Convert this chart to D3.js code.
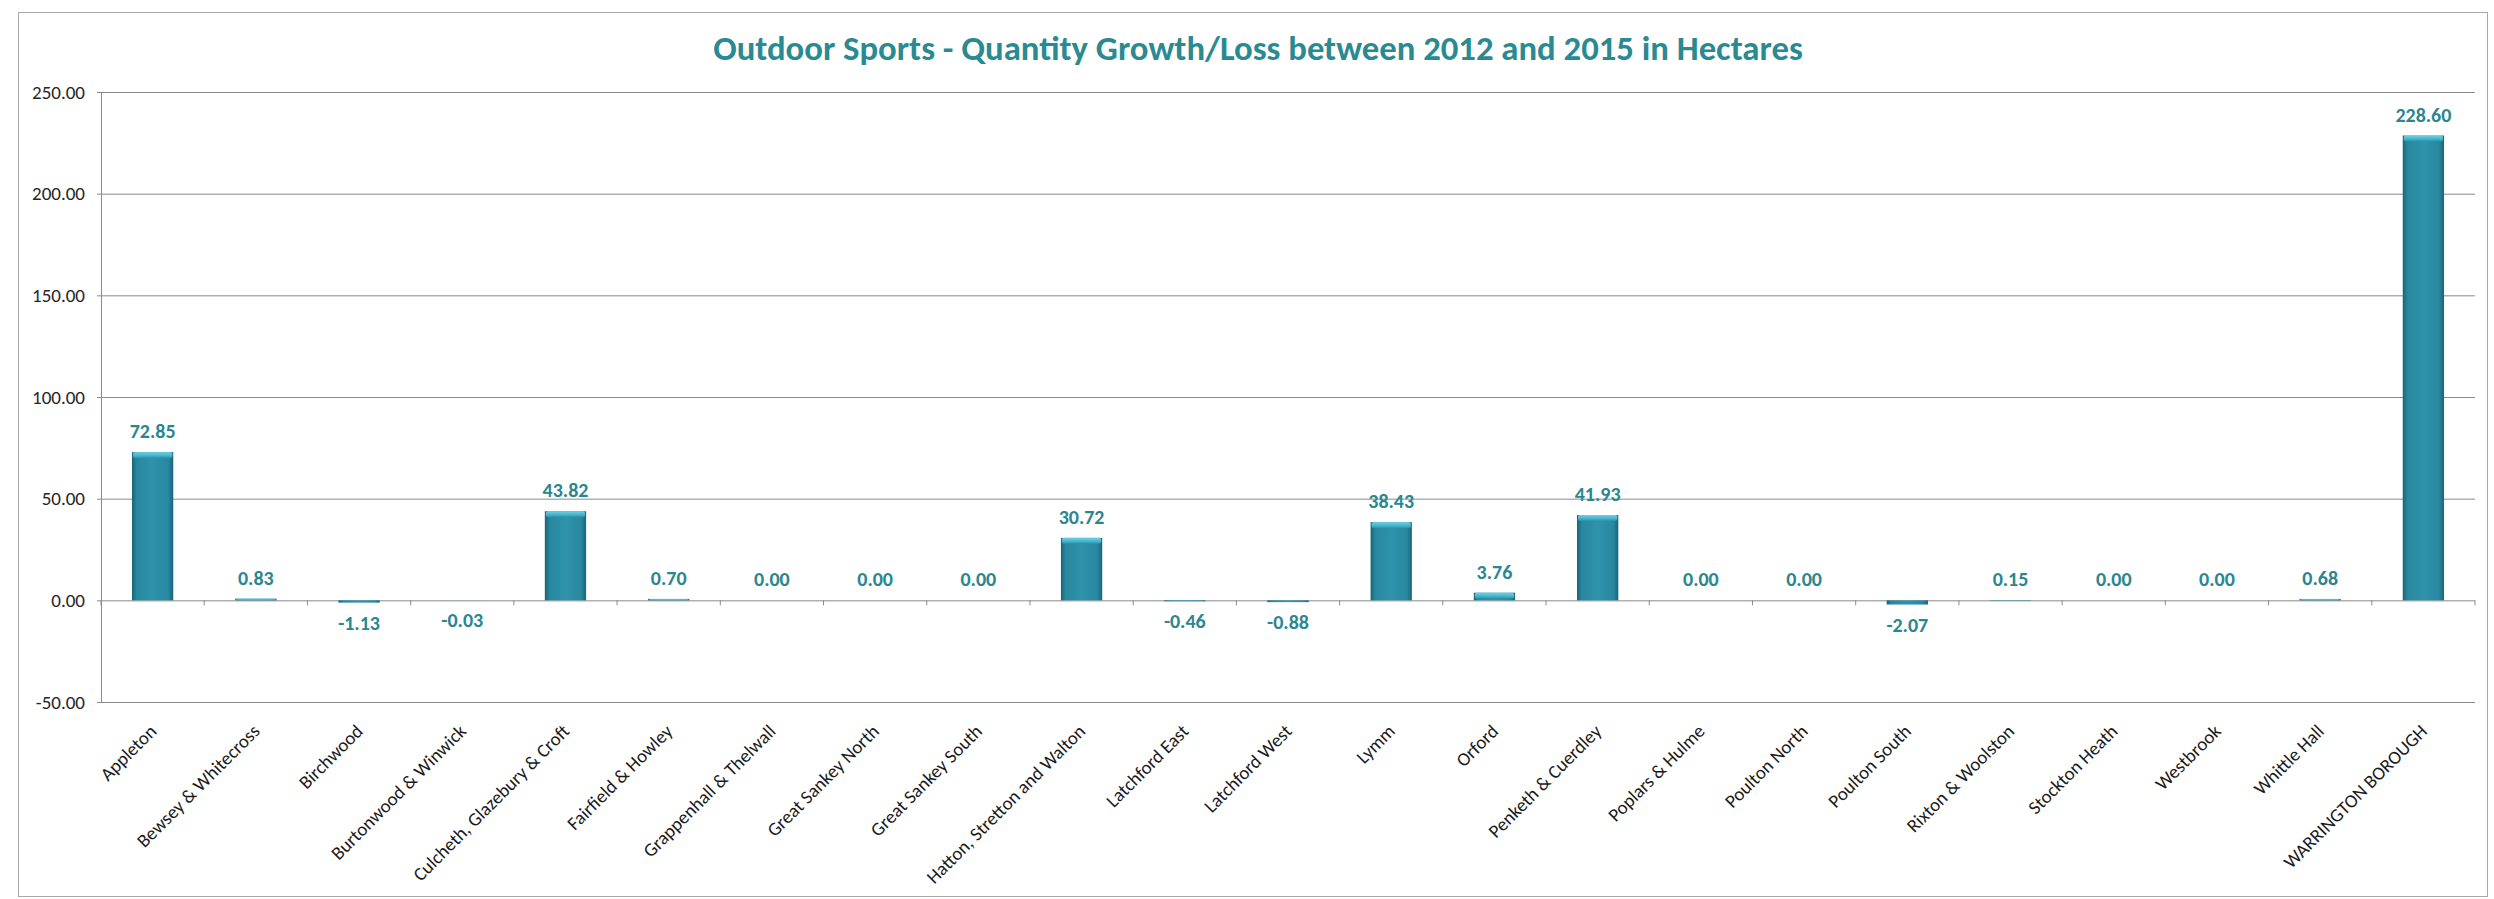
<!DOCTYPE html>
<html>
<head>
<meta charset="utf-8">
<script src="https://cdn.jsdelivr.net/npm/d3@7/dist/d3.min.js"></script>
<style>
  body { margin: 0; background: #ffffff; }
  svg { display: block; }
</style>
</head>
<body>
<svg id="chart" width="2494" height="899"></svg>
<script>
// ---------------- DATA ----------------
const chartTitle = "Outdoor Sports - Quantity Growth/Loss between 2012 and 2015 in Hectares";
const categories = [
  "Appleton", "Bewsey & Whitecross", "Birchwood", "Burtonwood & Winwick",
  "Culcheth, Glazebury & Croft", "Fairfield & Howley", "Grappenhall & Thelwall",
  "Great Sankey North", "Great Sankey South", "Hatton, Stretton and Walton",
  "Latchford East", "Latchford West", "Lymm", "Orford", "Penketh & Cuerdley",
  "Poplars & Hulme", "Poulton North", "Poulton South", "Rixton & Woolston",
  "Stockton Heath", "Westbrook", "Whittle Hall", "WARRINGTON BOROUGH"
];
const values = [
  72.85, 0.83, -1.13, -0.03, 43.82, 0.70, 0.00, 0.00, 0.00, 30.72,
  -0.46, -0.88, 38.43, 3.76, 41.93, 0.00, 0.00, -2.07, 0.15, 0.00,
  0.00, 0.68, 228.60
];
const yTickValues = [-50, 0, 50, 100, 150, 200, 250];
const yDomain = [-50, 250];

// ---------------- LAYOUT ----------------
const FONT = "Carlito, Calibri, Lato, 'Open Sans', sans-serif";
const plot = { left: 101, right: 2475, top: 92, bottom: 702 };
const svg = d3.select("#chart");
const locale = d3.formatLocale({ decimal: ".", thousands: ",", grouping: [3], currency: ["", ""], minus: "-" });
const fmt = locale.format(".2f");

function fitSize(str, weight, target, base) {
  base = base || 20;
  const t = svg.append("text")
    .attr("font-family", FONT).attr("font-weight", weight)
    .attr("font-size", base).text(str);
  const w = t.node().getComputedTextLength();
  t.remove();
  return base * target / w;
}

function draw() {
  // outer chart border
  svg.append("rect")
    .attr("x", 18.5).attr("y", 12.5)
    .attr("width", 2469).attr("height", 884)
    .attr("fill", "#ffffff").attr("stroke", "#a8a8a8").attr("stroke-width", 1);

  // gradients for bars
  const defs = svg.append("defs");
  const g1 = defs.append("linearGradient").attr("id", "barGrad")
    .attr("x1", "0%").attr("x2", "100%").attr("y1", "0%").attr("y2", "0%");
  [["0%", "#1a6476"], ["12%", "#2888a0"], ["50%", "#2f93ab"], ["88%", "#2888a0"], ["100%", "#1a6476"]]
    .forEach(s => g1.append("stop").attr("offset", s[0]).attr("stop-color", s[1]));
  const g2 = defs.append("linearGradient").attr("id", "capGrad")
    .attr("x1", "0%").attr("x2", "0%").attr("y1", "0%").attr("y2", "100%");
  [["0%", "#6fd0e2"], ["60%", "#43b4cb"], ["100%", "#2a8fa7"]]
    .forEach(s => g2.append("stop").attr("offset", s[0]).attr("stop-color", s[1]));

  // scales
  const x = d3.scaleBand().domain(categories)
    .range([plot.left, plot.right]).paddingInner(0.6).paddingOuter(0.3);
  const y = d3.scaleLinear().domain(yDomain).range([plot.bottom, plot.top]);

  // title
  const titleSize = fitSize(chartTitle, "bold", 1090, 30);
  svg.append("text")
    .attr("x", 1258).attr("y", 60)
    .attr("text-anchor", "middle")
    .attr("font-family", FONT).attr("font-weight", "bold")
    .attr("font-size", titleSize).attr("fill", "#2a8a92")
    .text(chartTitle);

  // gridlines
  svg.append("g")
    .attr("transform", `translate(${plot.left},0)`)
    .call(d3.axisLeft(y).tickValues(yTickValues)
      .tickSize(-(plot.right - plot.left)).tickFormat(""))
    .call(g => g.select(".domain").remove())
    .call(g => g.selectAll(".tick line").attr("stroke", "#8a8a8a").attr("stroke-width", 1));

  // y axis
  const yLabelSize = fitSize("250.00", "normal", 53, 18);
  svg.append("g")
    .attr("transform", `translate(${plot.left},0)`)
    .call(d3.axisLeft(y).tickValues(yTickValues).tickSize(4).tickPadding(12)
      .tickFormat(fmt).tickSizeOuter(0))
    .call(g => g.select(".domain").attr("stroke", "#8a8a8a"))
    .call(g => g.selectAll(".tick line").attr("stroke", "#8a8a8a"))
    .call(g => g.selectAll(".tick text")
      .attr("font-family", FONT).attr("font-size", yLabelSize).attr("fill", "#262626"));

  // category boundary ticks on zero line
  const step = x.step();
  const boundaries = d3.range(categories.length + 1).map(i =>
    i < categories.length ? x(categories[i]) - step * 0.3 : x(categories[i - 1]) + step * 0.7);
  svg.append("g").selectAll("line").data(boundaries).join("line")
    .attr("x1", d => d).attr("x2", d => d)
    .attr("y1", y(0)).attr("y2", y(0) + 5)
    .attr("stroke", "#8a8a8a").attr("stroke-width", 1);

  // bars
  const data = categories.map((c, i) => ({ c, v: values[i] }));
  const bars = svg.append("g");
  bars.selectAll("rect.bar").data(data).join("rect")
    .attr("class", "bar")
    .attr("x", d => x(d.c))
    .attr("width", x.bandwidth())
    .attr("y", d => y(Math.max(0, d.v)))
    .attr("height", d => Math.abs(y(d.v) - y(0)))
    .attr("fill", "url(#barGrad)");
  bars.selectAll("rect.cap").data(data.filter(d => d.v > 0)).join("rect")
    .attr("class", "cap")
    .attr("x", d => x(d.c) + 1)
    .attr("width", x.bandwidth() - 2)
    .attr("y", d => y(d.v))
    .attr("height", d => Math.min(6, Math.abs(y(d.v) - y(0))))
    .attr("rx", 2)
    .attr("fill", "url(#capGrad)");

  // data labels
  const dlSize = fitSize("228.60", "bold", 56, 18);
  svg.append("g").selectAll("text").data(data).join("text")
    .attr("x", d => x(d.c) + x.bandwidth() / 2)
    .attr("y", d => d.v >= 0 ? y(d.v) - 14 : y(d.v) + 27)
    .attr("text-anchor", "middle")
    .attr("font-family", FONT).attr("font-weight", "bold")
    .attr("font-size", dlSize).attr("fill", "#2b8690")
    .text(d => fmt(d.v));

  // category labels (rotated -45deg), sized so the longest label spans ~162px vertically
  const s0 = 18;
  const xl = svg.append("g").selectAll("text").data(categories).join("text")
    .attr("text-anchor", "end")
    .attr("font-family", FONT).attr("font-size", s0).attr("fill", "#1a1a1a")
    .attr("transform", c => `translate(${x(c) + x.bandwidth() / 2},760) rotate(-45)`)
    .text(c => c);
  let maxLen = 0;
  xl.each(function () { maxLen = Math.max(maxLen, this.getComputedTextLength()); });
  const k = maxLen / s0;                       // length per px of font size
  const xs = 162 / (0.7071 * k + 0.5);         // ink vertical extent target
  xl.attr("font-size", xs)
    .attr("transform", c => `translate(${x(c) + x.bandwidth() / 2 + 5},${723 + 0.5 * xs}) rotate(-45)`);
}

if (document.fonts && document.fonts.ready) {
  document.fonts.load("16px Lato").then(() => document.fonts.load("bold 16px Lato"))
    .then(() => document.fonts.ready).then(draw, draw);
} else {
  draw();
}
</script>
</body>
</html>
